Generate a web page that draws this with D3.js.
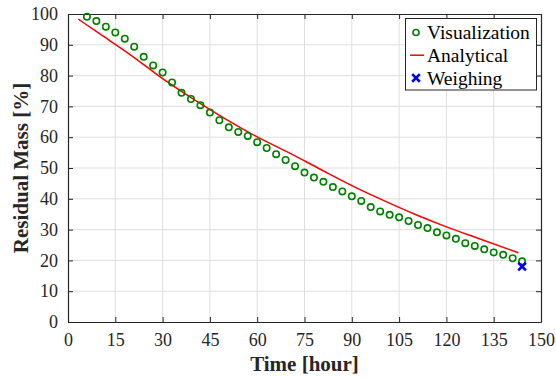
<!DOCTYPE html>
<html>
<head>
<meta charset="utf-8">
<script src="https://cdn.jsdelivr.net/npm/d3@7"></script>
<style>
  body { margin: 0; background: #fff; }
  svg { display: block; }
  text { font-family: "Liberation Serif", "Times New Roman", serif; }
</style>
</head>
<body>
<svg id="chart" width="556" height="378"></svg>
<script>
// visualization measurements (every 3 hours)
const visTime = [6, 9, 12, 15, 18, 21, 24, 27, 30, 33, 36, 39, 42, 45, 48, 51, 54, 57, 60, 63, 66, 69, 72, 75,
  78, 81, 84, 87, 90, 93, 96, 99, 102, 105, 108, 111, 114, 117, 120, 123, 126, 129, 132, 135, 138, 141, 144];
const visMass = [99.1, 97.7, 95.9, 94.0, 92.0, 89.4, 86.1, 83.3, 81.0, 77.8, 74.4, 72.4, 70.4, 68.0, 65.5, 63.2,
  61.7, 60.4, 58.4, 56.5, 54.5, 52.6, 50.6, 48.5, 46.9, 45.5, 43.8, 42.4, 40.8, 39.3, 37.3, 35.9, 34.8, 34.0,
  32.8, 31.5, 30.5, 29.1, 28.1, 27.0, 25.6, 24.7, 23.6, 22.6, 21.8, 20.7, 19.7];

// analytical curve
const anaTime = [3.3, 10, 20, 30, 40, 50, 60, 70, 80, 90, 100, 110, 120, 130, 142.8];
const anaMass = [98.3, 93.6, 86.6, 79.0, 72.2, 65.9, 60.1, 55.0, 49.6, 44.3, 39.5, 35.0, 30.9, 27.2, 22.5];

// weighing
const weighTime = [144];
const weighMass = [18.0];

const xTicks = d3.range(0, 151, 15);
const yTicks = d3.range(0, 101, 10);

const svg = d3.select("#chart");
const m = { left: 68, right: 15, top: 14, bottom: 56 };
const W = 556, H = 378;

const x = d3.scaleLinear().domain([0, 150]).range([m.left, W - m.right]);
const y = d3.scaleLinear().domain([0, 100]).range([H - m.bottom, m.top]);

const axisColor = "#262626";
const serif = "Liberation Serif, Times New Roman, serif";

// grid
svg.append("g").selectAll("line").data(xTicks.slice(1, -1)).join("line")
  .attr("x1", d => x(d)).attr("x2", d => x(d))
  .attr("y1", y(0)).attr("y2", y(100))
  .attr("stroke", "#dfdfdf").attr("stroke-width", 1);
svg.append("g").selectAll("line").data(yTicks.slice(1, -1)).join("line")
  .attr("x1", x(0)).attr("x2", x(150))
  .attr("y1", d => y(d)).attr("y2", d => y(d))
  .attr("stroke", "#dfdfdf").attr("stroke-width", 1);

// axes (ticks inward, box)
const gx = svg.append("g").attr("transform", `translate(0,${y(0)})`)
  .call(d3.axisBottom(x).tickValues(xTicks).tickSizeInner(-5).tickSizeOuter(0).tickPadding(11));
const gxTop = svg.append("g").attr("transform", `translate(0,${y(100)})`)
  .call(d3.axisTop(x).tickValues(xTicks).tickSizeInner(-5).tickSizeOuter(0).tickFormat(""));
const gy = svg.append("g").attr("transform", `translate(${x(0)},0)`)
  .call(d3.axisLeft(y).tickValues(yTicks).tickSizeInner(-5).tickSizeOuter(0).tickPadding(10));
const gyR = svg.append("g").attr("transform", `translate(${x(150)},0)`)
  .call(d3.axisRight(y).tickValues(yTicks).tickSizeInner(-5).tickSizeOuter(0).tickFormat(""));

[gx, gxTop, gy, gyR].forEach(g => {
  g.attr("font-family", serif).attr("font-size", 18);
  g.select(".domain").attr("stroke", axisColor).attr("stroke-width", 1.2);
  g.selectAll(".tick line").attr("stroke", axisColor);
  g.selectAll(".tick text").attr("fill", axisColor).attr("font-family", serif);
});
gx.selectAll(".tick text").attr("dy", "0.71em");

// analytical line
svg.append("path")
  .datum(anaTime.map((t, i) => [t, anaMass[i]]))
  .attr("fill", "none").attr("stroke", "#ff0000").attr("stroke-width", 1.5)
  .attr("d", d3.line().x(d => x(d[0])).y(d => y(d[1])).curve(d3.curveMonotoneX));

// visualization circles
svg.append("g").selectAll("circle").data(visTime).join("circle")
  .attr("cx", d => x(d)).attr("cy", (d, i) => y(visMass[i]))
  .attr("r", 3.2).attr("fill", "none").attr("stroke", "#008000").attr("stroke-width", 1.6);

// weighing cross
const cross = d3.symbol().type(d3.symbolX).size(40);
svg.append("g").selectAll("path").data(weighTime).join("path")
  .attr("transform", (d, i) => `translate(${x(d)},${y(weighMass[i])})`)
  .attr("d", cross()).attr("fill", "none").attr("stroke", "#0000ff").attr("stroke-width", 2.6);

// axis titles
svg.append("text")
  .attr("x", x(75)).attr("y", 371)
  .attr("text-anchor", "middle").attr("font-weight", "bold").attr("font-size", 21)
  .attr("font-family", serif).attr("fill", axisColor).text("Time [hour]");
svg.append("text")
  .attr("transform", `translate(28,${y(50)}) rotate(-90)`)
  .attr("text-anchor", "middle").attr("font-weight", "bold").attr("font-size", 21)
  .attr("font-family", serif).attr("fill", axisColor).text("Residual Mass [%]");

// legend
const lg = svg.append("g");
lg.append("rect").attr("x", 405.5).attr("y", 18.5).attr("width", 131).attr("height", 71.5)
  .attr("fill", "#fff").attr("stroke", axisColor).attr("stroke-width", 1);
const items = ["Visualization", "Analytical", "Weighing"];
items.forEach((name, i) => {
  const cy = 32.5 + i * 22.7;
  if (i === 0) {
    lg.append("circle").attr("cx", 416).attr("cy", cy).attr("r", 3)
      .attr("fill", "none").attr("stroke", "#008000").attr("stroke-width", 1.6);
  } else if (i === 1) {
    lg.append("line").attr("x1", 410).attr("x2", 424).attr("y1", cy).attr("y2", cy)
      .attr("stroke", "#ff0000").attr("stroke-width", 1.5);
  } else {
    lg.append("path").attr("transform", `translate(416,${cy})`).attr("d", cross())
      .attr("fill", "none").attr("stroke", "#0000ff").attr("stroke-width", 2.6);
  }
  lg.append("text").attr("x", 427).attr("y", cy).attr("dy", "0.35em")
    .attr("font-size", 19.5).attr("font-family", serif).attr("fill", "#000").text(name);
});
</script>
</body>
</html>
